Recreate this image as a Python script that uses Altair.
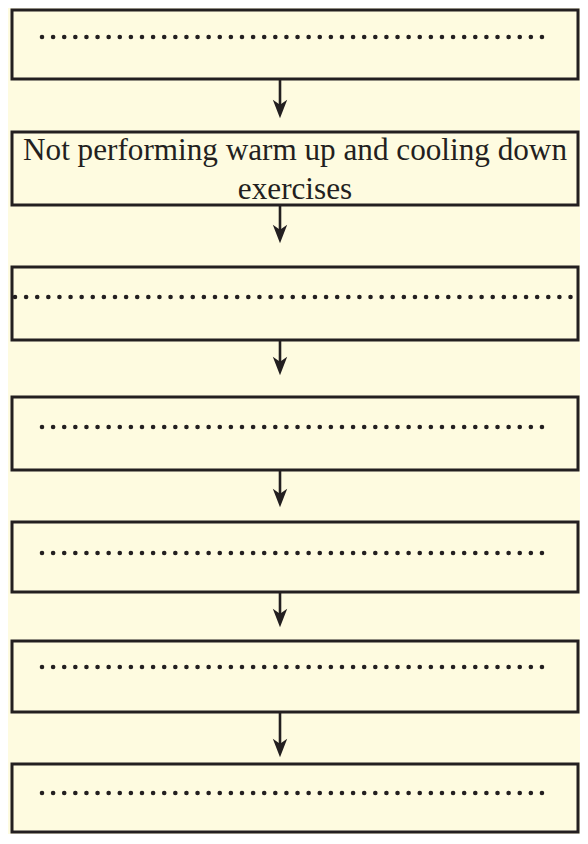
import altair as alt
import pandas as pd

# ---- content -------------------------------------------------------------
# One entry per box of the flow chart; an empty list means an empty box that
# holds a dotted placeholder line.
box_lines = [
    [],
    ["Not performing warm up and cooling down", "exercises"],
    [],
    [],
    [],
    [],
    [],
]

# ---- layout (page pixels) -------------------------------------------------
box_top = [10, 132, 267, 397, 522, 641, 764]
box_bottom = [79, 205, 340, 470, 592, 712, 832]
dot_row = [37, None, 297, 427, 553, 667, 793]
dot_left = [42, None, 15, 42, 42, 42, 42]
dot_right = [553, None, 575, 553, 553, 553, 553]
arrow_tip = [118, 243, 375, 507, 627, 757]
box_left, box_right = 12, 578
arrow_x = 280
text_x = 295
first_baseline = 160

INK = "#231F20"
BG = "#FEFBE0"

# page coordinates 8..580 x 8..834 map 1:1 onto the 572 x 826 chart
xs = alt.Scale(domain=[8, 580], nice=False, zero=False)
ys = alt.Scale(domain=[8, 834], nice=False, zero=False, reverse=True)

boxes = pd.DataFrame({
    "x0": [box_left] * len(box_top),
    "x1": [box_right] * len(box_top),
    "y0": box_top,
    "y1": box_bottom,
})

dots = pd.DataFrame([
    {"x0": dot_left[i], "x1": dot_right[i], "y": dot_row[i]}
    for i in range(len(box_lines)) if not box_lines[i]
])

texts = pd.DataFrame([
    {"x": text_x, "y": first_baseline, "t": "\n".join(box_lines[i])}
    for i in range(len(box_lines)) if box_lines[i]
])

shafts = pd.DataFrame({
    "x": [arrow_x] * len(arrow_tip),
    "y0": box_bottom[:-1],
    "y1": [t - 10 for t in arrow_tip],
})
heads = pd.DataFrame({
    "x": [arrow_x] * len(arrow_tip),
    "y": [t - 9 for t in arrow_tip],
})

box_layer = alt.Chart(boxes).mark_rect(
    fillOpacity=0, stroke=INK, strokeWidth=3
).encode(
    x=alt.X("x0:Q", scale=xs, axis=None), x2="x1:Q",
    y=alt.Y("y0:Q", scale=ys, axis=None), y2="y1:Q",
)

dot_layer = alt.Chart(dots).mark_rule(
    color=INK, strokeWidth=4.6, strokeCap="round", strokeDash=[0.01, 11.1]
).encode(
    x=alt.X("x0:Q", scale=xs, axis=None), x2="x1:Q",
    y=alt.Y("y:Q", scale=ys, axis=None),
)

text_layer = alt.Chart(texts).mark_text(
    font="Liberation Serif", fontSize=31.2, color=INK, align="center",
    baseline="alphabetic", lineBreak="\n", lineHeight=39,
).encode(
    x=alt.X("x:Q", scale=xs, axis=None),
    y=alt.Y("y:Q", scale=ys, axis=None),
    text="t:N",
)

shaft_layer = alt.Chart(shafts).mark_rule(color=INK, strokeWidth=2.6).encode(
    x=alt.X("x:Q", scale=xs, axis=None),
    y=alt.Y("y0:Q", scale=ys, axis=None), y2="y1:Q",
)

head_layer = alt.Chart(heads).mark_point(
    shape="M0,1 L-0.78,-1 L0,-0.45 L0.78,-1 Z",
    filled=True, color=INK, opacity=1, size=340, strokeWidth=0,
).encode(
    x=alt.X("x:Q", scale=xs, axis=None),
    y=alt.Y("y:Q", scale=ys, axis=None),
)

chart = alt.layer(
    box_layer, dot_layer, text_layer, shaft_layer, head_layer
).properties(
    width=572, height=826, padding=0, autosize="none", background=BG,
).configure_view(stroke=None)

chart.save("out.html", embed_options={"renderer": "svg", "actions": False})
